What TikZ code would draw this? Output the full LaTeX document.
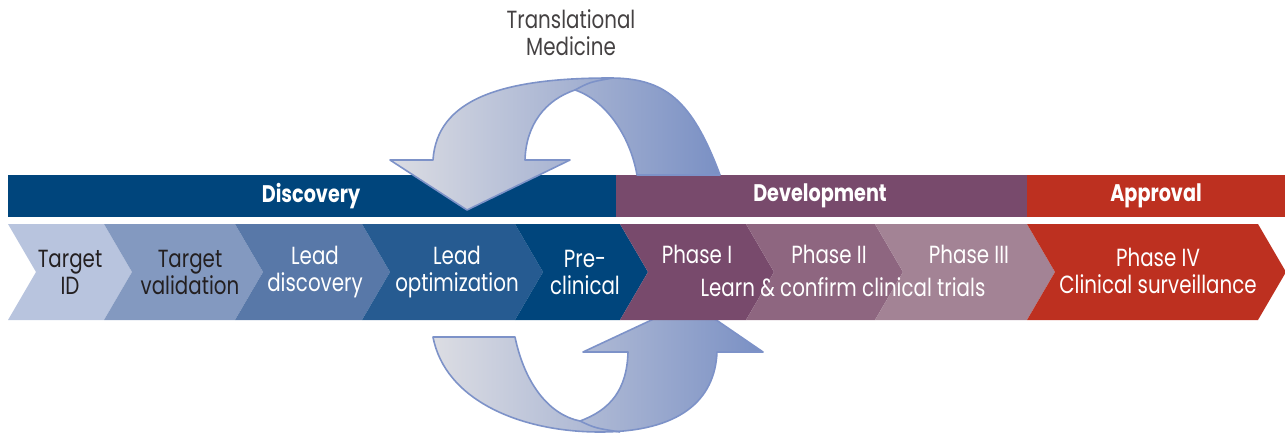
\documentclass[tikz,border=0pt]{standalone}
\usepackage{fontspec}
\setmainfont{Poppins}[FakeStretch=0.8]
\usetikzlibrary{positioning}
\definecolor{disc}{HTML}{00457C}
\definecolor{devl}{HTML}{784A6C}
\definecolor{appr}{HTML}{BD3020}
\definecolor{tid}{HTML}{B8C4DE}
\definecolor{tval}{HTML}{8399C0}
\definecolor{ldisc}{HTML}{5878A8}
\definecolor{lopt}{HTML}{265B91}
\definecolor{ph2}{HTML}{8E6680}
\definecolor{ph3}{HTML}{A38395}
\definecolor{arrlight}{HTML}{DCDDE3}
\definecolor{arrdark}{HTML}{7A90C4}
\definecolor{arrline}{HTML}{7D92C8}
\definecolor{ink}{HTML}{231F20}

\begin{document}
\begin{tikzpicture}[x=0.5pt,y=-0.5pt,
  lbl/.style={font=\fontsize{12.4}{13.5}\selectfont, align=center, text=white, inner sep=0pt},
  head/.style={lbl, font=\fontsize{12}{13.5}\selectfont\bfseries},
  ribbon/.style={draw=arrline, line width=0.8pt, line join=round,
    left color=arrlight, right color=arrdark}]
  \useasboundingbox (0,0) rectangle (1285,433);
  \def\h{28}
  % lower loop, behind the stages
  \draw[ribbon] (433,337) -- (515,337) .. controls (525,385) and (550,415) .. (580,421)
    .. controls (610,410) and (627,390) .. (628,352) -- (583,352) -- (690,302)
    -- (763,352) -- (717,352) .. controls (715,400) and (680,432) .. (600,432)
    .. controls (520,432) and (445,400) .. (433,337) -- cycle;
  \draw[arrline, line width=0.8pt] (580,421) .. controls (595,428) .. (620,432);
  % phase bars
  \fill[disc] (8,175) rectangle (616,217);
  \fill[devl] (616,175) rectangle (1027,217);
  \fill[appr] (1027,175) rectangle (1285,217);
  \node[head] (discovery) at (311,196) {Discovery};
  \node[head] (development) at (820,196) {Development};
  \node[head] (approval) at (1156,196) {Approval};
  % stages
  \foreach \xa/\xb/\col in {8/104/tid, 104/235/tval, 235/362/ldisc, 362/515/lopt,
    515/620/disc, 620/746/devl, 746/875/ph2, 875/1027/ph3, 1027/1258/appr}
    \fill[\col] (\xa,224) -- (\xb,224) -- (\xb+\h,272) -- (\xb,320) -- (\xa,320)
      -- (\xa+\h,272) -- cycle;
  \node[lbl, text=ink] (targetid) at (70,272) {Target\\ID};
  \node[lbl, text=ink] (targetval) at (190,272) {Target\\validation};
  \node[lbl] (leaddisc) at (315,272) {Lead\\discovery};
  \node[lbl] (leadopt) at (457,272) {Lead\\optimization};
  \node[lbl] (preclin) at (585,272) {Pre-\\clinical};
  \node[lbl] (phasei) at (697,254) {Phase I};
  \node[lbl] (phaseii) at (829,254) {Phase II};
  \node[lbl] (phaseiii) at (969,254) {Phase III};
  \node[lbl] (trials) at (843,287) {Learn \& confirm clinical trials};
  \node[lbl] (phaseiv) at (1158,271) {Phase IV\\Clinical surveillance};
  % upper loop
  \draw[ribbon] (637,175) -- (720,175) .. controls (692,100) and (665,78) .. (610,78)
    .. controls (500,78) and (437,100) .. (433,160) -- (390,160) -- (467,210)
    -- (570,160) -- (525,160) .. controls (526,125) and (545,100) .. (575,90)
    .. controls (605,100) and (630,135) .. (637,175) -- cycle;
  \draw[arrline, line width=0.8pt] (575,90) .. controls (590,82) .. (613,78);
  \node[lbl, text=ink!85] (transl) at (571,33) {Translational\\Medicine};
\end{tikzpicture}
\end{document}
